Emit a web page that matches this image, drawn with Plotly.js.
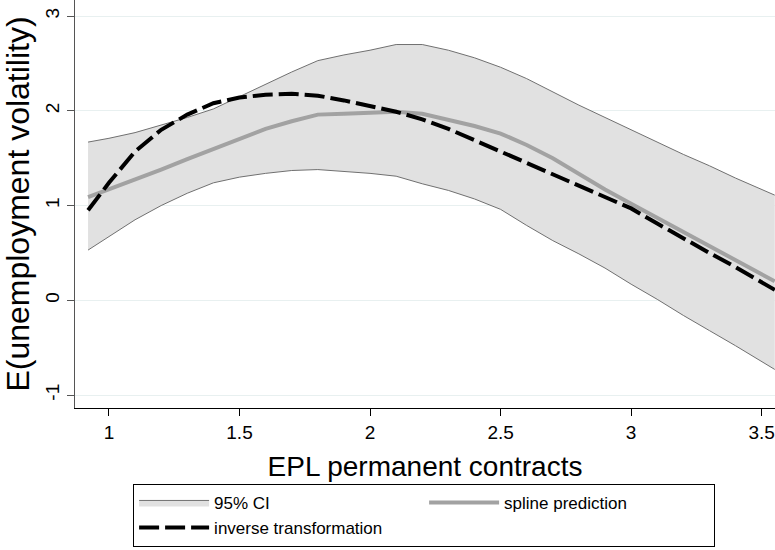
<!DOCTYPE html>
<html>
<head>
<meta charset="utf-8">
<script src="https://cdn.plot.ly/plotly-3.0.1.min.js"></script>
<style>html,body{margin:0;padding:0;background:#fff;}#chart{width:775px;height:550px;}</style>
</head>
<body>
<div id="chart"></div>
<script>
// EPL permanent contracts (x grid)
var epl = [0.92, 1.0, 1.1, 1.2, 1.3, 1.4, 1.5, 1.6, 1.7, 1.8, 1.9, 2.0, 2.1, 2.2, 2.3, 2.4, 2.5, 2.6, 2.7, 2.8, 2.9, 3.0, 3.1, 3.2, 3.3, 3.4, 3.55];
// 95% CI bounds
var ciUpper = [1.67, 1.71, 1.77, 1.85, 1.93, 2.02, 2.15, 2.28, 2.41, 2.53, 2.59, 2.64, 2.70, 2.70, 2.64, 2.56, 2.46, 2.34, 2.20, 2.06, 1.93, 1.80, 1.67, 1.54, 1.42, 1.29, 1.11];
var ciLower = [0.53, 0.67, 0.85, 1.00, 1.13, 1.24, 1.30, 1.34, 1.37, 1.38, 1.36, 1.34, 1.31, 1.23, 1.16, 1.07, 0.96, 0.79, 0.63, 0.49, 0.34, 0.17, 0.01, -0.16, -0.32, -0.48, -0.73];
// spline prediction
var spline = [1.09, 1.17, 1.27, 1.38, 1.49, 1.60, 1.71, 1.81, 1.89, 1.96, 1.97, 1.98, 1.99, 1.97, 1.91, 1.84, 1.76, 1.64, 1.50, 1.33, 1.17, 1.02, 0.87, 0.72, 0.57, 0.42, 0.20];
// inverse transformation
var inverse = [0.95, 1.24, 1.57, 1.80, 1.96, 2.08, 2.14, 2.17, 2.18, 2.16, 2.11, 2.05, 1.99, 1.91, 1.81, 1.69, 1.57, 1.45, 1.33, 1.21, 1.10, 0.97, 0.81, 0.65, 0.50, 0.35, 0.11];

var xTicks = [1, 1.5, 2, 2.5, 3, 3.5];
var xTickText = ['1', '1.5', '2', '2.5', '3', '3.5'];
var yTicks = [-1, 0, 1, 2, 3];
var yTickText = ['-1', '0', '1', '2', '3'];

var FONT = 'Arial, "Liberation Sans", sans-serif';

var traces = [
  {x: epl, y: ciLower, type: 'scatter', mode: 'lines', line: {color: '#707070', width: 1}, showlegend: false, hoverinfo: 'skip'},
  {x: epl, y: ciUpper, type: 'scatter', mode: 'lines', fill: 'tonexty', fillcolor: '#e1e1e1', line: {color: '#707070', width: 1}, name: '95% CI'},
  {x: epl, y: spline, type: 'scatter', mode: 'lines', line: {color: '#a2a2a2', width: 4}, name: 'spline prediction'},
  {x: epl, y: inverse, type: 'scatter', mode: 'lines', line: {color: '#000000', width: 4, dash: '20px,6px'}, name: 'inverse transformation'}
];

var layout = {
  width: 775, height: 550,
  margin: {l: 75, r: 0, t: 0, b: 142, autoexpand: false},
  paper_bgcolor: '#ffffff', plot_bgcolor: '#ffffff',
  font: {family: FONT, size: 17, color: '#000'},
  showlegend: true,
  legend: {
    orientation: 'h', x: 0.083, xanchor: 'left', y: -0.186, yanchor: 'top',
    entrywidth: 205, entrywidthmode: 'pixels', itemwidth: 70,
    bordercolor: '#000', borderwidth: 1, bgcolor: '#fff',
    font: {family: FONT, size: 17, color: '#000'}, traceorder: 'normal'
  },
  xaxis: {
    range: [0.87, 3.551], tickvals: xTicks, ticktext: xTickText,
    ticks: 'outside', ticklen: 7, tickcolor: '#000', tickwidth: 1,
    showline: true, linecolor: '#000', linewidth: 1,
    showgrid: false, zeroline: false, automargin: false,
    tickfont: {family: FONT, size: 19, color: '#000'},
    title: {text: 'EPL permanent contracts', font: {family: FONT, size: 28, color: '#000'}, standoff: 14}
  },
  yaxis: {
    range: [-1.137, 3.17], tickvals: yTicks, ticktext: yTickText, tickangle: -90,
    ticks: 'outside', ticklen: 7, tickcolor: '#555', tickwidth: 1,
    showline: true, linecolor: '#555', linewidth: 1,
    showgrid: true, gridcolor: '#e8f0f0', gridwidth: 1, zeroline: false, automargin: false,
    tickfont: {family: FONT, size: 19, color: '#000'},
    title: {text: 'E(unemployment volatility)', font: {family: FONT, size: 32, color: '#000'}, standoff: 10}
  }
};

Plotly.newPlot('chart', traces, layout, {displayModeBar: false, staticPlot: true});
</script>
</body>
</html>
